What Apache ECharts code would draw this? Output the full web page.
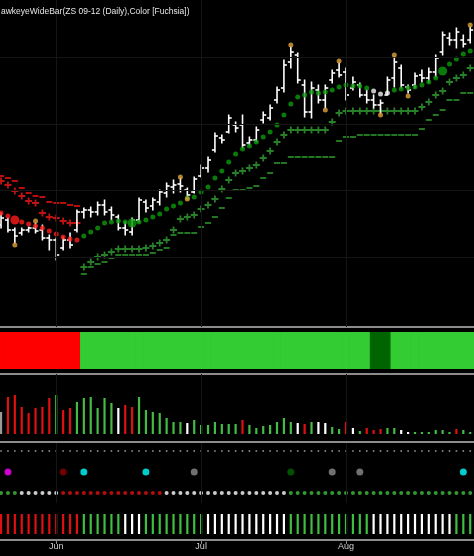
<!DOCTYPE html>
<html><head><meta charset="utf-8">
<script src="https://cdn.jsdelivr.net/npm/echarts@6/dist/echarts.min.js"></script>
<style>html,body{margin:0;padding:0;background:#000}#c{width:474px;height:556px}</style>
</head><body><div id="c"></div>
<script>
// ---------- DATA ----------
const dates = ['2012-05-21','2012-05-22','2012-05-23','2012-05-24','2012-05-25','2012-05-29','2012-05-30','2012-05-31',
 '2012-06-01','2012-06-04','2012-06-05','2012-06-06','2012-06-07','2012-06-08','2012-06-11','2012-06-12','2012-06-13','2012-06-14','2012-06-15',
 '2012-06-18','2012-06-19','2012-06-20','2012-06-21','2012-06-22','2012-06-25','2012-06-26','2012-06-27','2012-06-28','2012-06-29',
 '2012-07-02','2012-07-03','2012-07-05','2012-07-06','2012-07-09','2012-07-10','2012-07-11','2012-07-12','2012-07-13',
 '2012-07-16','2012-07-17','2012-07-18','2012-07-19','2012-07-20','2012-07-23','2012-07-24','2012-07-25','2012-07-26','2012-07-27',
 '2012-07-30','2012-07-31','2012-08-01','2012-08-02','2012-08-03','2012-08-06','2012-08-07','2012-08-08','2012-08-09','2012-08-10',
 '2012-08-13','2012-08-14','2012-08-15','2012-08-16','2012-08-17','2012-08-20','2012-08-21','2012-08-22','2012-08-23','2012-08-24','2012-08-27'];
const monthLabels = ['Jun','Jul','Aug'];
const titleText = 'awkeyeWideBar(ZS 09-12 (Daily),Color [Fuchsia])';

const high = [1587,1582,1572,1572,1573,1577,1575,1565,1562,1563,
 1567,1590,1592,1593,1598,1600,1593,1585,1578,1582,
 1602,1600,1602,1610,1617,1620,1622,1612,1623,1635,
 1643,1667,1665,1685,1678,1685,1663,1673,1688,1695,
 1713,1740,1753,1747,1720,1718,1715,1715,1730,1737,
 1732,1723,1717,1710,1705,1700,1723,1743,1735,1715,
 1727,1730,1732,1745,1768,1767,1772,1765,1773];
const low = [1572,1568,1557,1565,1568,1567,1560,1550,1540,1550,
 1552,1568,1582,1583,1585,1585,1580,1570,1565,1565,
 1578,1588,1590,1595,1603,1607,1608,1603,1607,1623,
 1628,1648,1657,1667,1668,1652,1655,1658,1677,1680,
 1697,1708,1732,1717,1683,1682,1697,1692,1717,1723,
 1700,1710,1703,1697,1692,1687,1705,1713,1712,1707,
 1712,1718,1718,1723,1745,1755,1752,1753,1757];
const open = [1575,1580,1570,1567,1570,1572,1570,1562,1560,1552,
 1560,1570,1588,1590,1588,1595,1590,1583,1572,1568,
 1580,1598,1594,1598,1607,1613,1616,1610,1608,1624,
 1632,1650,1662,1668,1675,1675,1657,1660,1680,1682,
 1700,1712,1738,1745,1715,1688,1710,1700,1720,1730,
 1728,1712,1715,1705,1700,1695,1705,1722,1732,1713,
 1715,1725,1722,1728,1748,1762,1760,1760,1760];
const close = [1582,1570,1564,1570,1572,1569,1562,1560,1545,1560,
 1555,1588,1590,1588,1595,1588,1585,1572,1570,1580,
 1600,1592,1600,1608,1614,1615,1614,1605,1621,1632,
 1640,1664,1660,1682,1672,1655,1660,1670,1685,1692,
 1710,1735,1748,1720,1688,1712,1700,1712,1727,1725,
 1705,1718,1705,1700,1695,1697,1720,1738,1715,1710,
 1724,1722,1728,1742,1765,1760,1768,1756,1770];

// trailing stop dots (one per bar) and their colour codes
const stopDots = [1587,1584,1580,1578,1576,1574,1572,1569,1566,1563,
 1561,1560,1564,1568,1572,1577,1578,1579,1578,1577,
 1578,1580,1583,1586,1591,1594,1597,1602,1603,1608,
 1613,1622,1629,1638,1646,1651,1654,1658,1663,1668,
 1675,1685,1696,1703,1705,1708,1707,1708,1710,1713,
 1715,1714,1714,1712,1709,1706,1707,1710,1711,1712,
 1713,1715,1718,1722,1729,1736,1741,1746,1749];
const stopCodes = 'RRRRRRRRRRRR GGGGGGGGGG GGGGGGGGGG GGGGGGGGGG GGGGGGGGGG GG WWW GGGGGGGGGGGG';
const bigDotIdx = [2, 19, 64];

// red levels (bars 0..11)
const redStart = 0;
const redPlus = [1619,1615,1609,1604,1599,1597,1587,1583,1582,1579,1577,1577];
const redDash = [1624,1622,1619,1612,1607,1604,1603,1598,1597,1597,1595,1594];
// green levels (bars 12..68)
const greenStart = 12;
const greenPlus = [1533,1538,1543,1545,1548,1551,1551,1551,1551,1552,1554,1557,1560,1570,1581,1583,1585,1591,1595,1601,
 1611,1620,1627,1629,1632,1635,1642,1649,1658,1665,1670,1670,1670,1670,1670,1670,1678,1687,1689,1689,
 1689,1689,1689,1689,1689,1689,1689,1689,1689,1693,1698,1705,1709,1718,1722,1725,1732];
const greenDash = [1526,1533,1536,1538,1542,1545,1545,1545,1545,1545,1547,1550,1552,1565,1567,1567,1567,1573,1577,1583,
 1592,1602,1610,1610,1612,1614,1622,1627,1637,1637,1643,1643,1643,1643,1643,1643,1643,1659,1663,1663,
 1665,1665,1665,1665,1665,1665,1665,1665,1665,1671,1680,1685,1690,1700,1700,1707,1707];

// swing markers (orange)
const swingIdx = [2,5,26,27,42,47,49,55,57,59,68];
const swingVal = [1555,1579,1623,1601,1755,1690,1739,1685,1745,1704,1775];

// status band codes
const statusCodes = 'RRRRRRRRRRRR GGGGGGGGGG GGGGGGGGGG GGGGGGGGGG GGGGGGGGGG GG DDD GGGGGGGGGGGG';

// histogram
const histVals = [22,37,39,27,21,26,27,36,39,24,
 26,32,36,37,26,36,31,26,29,27,
 37,24,22,21,16,12,12,11,14,9,
 9,12,10,10,10,14,9,6,8,9,
 12,16,12,11,10,12,12,11,7,5,
 12,6,3,6,4,5,6,6,4,2,
 2,2,2,4,4,2,5,4,2];
const histCodes = 'Y RRRRRRR G RR GGGGGG W RR GGGGGGG W GGGGGGG R GGGGGGG W R G WW GG R W G RRR GG WW GGGGGG R GG';

// signal dots
const sigIdx = [1, 9, 12, 21, 28, 42, 48, 52, 67];
const sigCodes = ['M','K','C','C','S','D','S','S','C'];

// small dots row and bars row
const dotRowCodes = 'GGG WWWWWW RRRRRRRRRRRRRRR WWWWWWWWWWWWWWWWWW GGGGGGGGGGGGGGGGGGGGGGGGGGG';
const barRowCodes = 'RRRRRRRRRRRR GGGGGG WWW GGGGGGGGG WWWWWWWWWWWW GGGGGGGGGGGG WWWWWWWWWWWW GGG';

// ---------- STYLE ----------
const codes = s => s.replace(/ /g,'').split('');
const COL = {R:'#ff1a1a', G:'#0b9a0b', W:'#f2f2f2', D:'#006400', Y:'#9a9a9a', M:'#ff00ff', K:'#8b0000', C:'#00ffff', S:'#8c8c8c'};
const STATUS_COL = {R:'#ff0000', G:'#33cc33', D:'#006400'};
const HIST_COL = {R:'#e01010', G:'#44bb44', W:'#ffffff', Y:'#9a9a9a'};
const ROW_COL = {R:'#e01010', G:'#3fbf3f', W:'#ffffff'};
const PLUS = 'path://M0,2.6H7V4.4H0ZM2.6,0H4.4V7H2.6Z';

const N = dates.length;
const monthIdx = [];
dates.forEach((d,i)=>{ if(i>0 && d.slice(5,7)!==dates[i-1].slice(5,7)) monthIdx.push(i); });
const XMIN = -0.15, XMAX = 68.55;
const AXCOL = '#8c8c8c', GRIDCOL = '#151515';

function xAx(g, extra){
  return Object.assign({type:'value', gridIndex:g, min:XMIN, max:XMAX,
    axisLine:{show:false}, axisTick:{show:false}, axisLabel:{show:false}, splitLine:{show:false}}, extra||{});
}
function yAx(g, min, max){
  return {type:'value', gridIndex:g, min:min, max:max, show:false, splitLine:{show:false}};
}
const baseLine = {show:true, onZero:false, lineStyle:{color:AXCOL, width:2}};
function vGrid(g){
  return {type:'scatter', xAxisIndex:g, yAxisIndex:g, data:[], silent:true, z:0,
    markLine:{silent:true, symbol:['none','none'], label:{show:false}, animation:false,
      lineStyle:{color:GRIDCOL, width:1, type:'solid'},
      data: monthIdx.map(i=>({xAxis:i}))}};
}

const sCodes = codes(stopCodes), stCodes = codes(statusCodes), hCodes = codes(histCodes),
      dCodes = codes(dotRowCodes), bCodes = codes(barRowCodes);

const series = [];
// price panel gridlines
const g0 = vGrid(0);
g0.markLine.data = g0.markLine.data.concat([1543,1610,1676,1743].map(v=>({yAxis:v})));
series.push(g0);
// red levels
series.push({type:'scatter', xAxisIndex:0, yAxisIndex:0, symbol:'rect', symbolSize:[6,2], itemStyle:{color:'#e61212'},
  data: redDash.map((v,k)=>[redStart+k, v]), z:2});
series.push({type:'scatter', xAxisIndex:0, yAxisIndex:0, symbol:PLUS, symbolSize:7, itemStyle:{color:'#f01818'},
  data: redPlus.map((v,k)=>[redStart+k, v]), z:2});
// green levels
series.push({type:'scatter', xAxisIndex:0, yAxisIndex:0, symbol:'rect', symbolSize:[6,2], itemStyle:{color:'#2c952c'},
  data: greenDash.map((v,k)=>[greenStart+k, v]), z:2});
series.push({type:'scatter', xAxisIndex:0, yAxisIndex:0, symbol:PLUS, symbolSize:7, itemStyle:{color:'#32a032'},
  data: greenPlus.map((v,k)=>[greenStart+k, v]), z:2});
// price bars
series.push({type:'custom', xAxisIndex:0, yAxisIndex:0, z:3,
  data: dates.map((d,i)=>[i, open[i], high[i], low[i], close[i]]),
  encode:{x:0, y:[1,2,3,4]},
  renderItem: function(params, api){
    const x = api.coord([api.value(0), api.value(2)])[0];
    const yo = api.coord([api.value(0), api.value(1)])[1];
    const yh = api.coord([api.value(0), api.value(2)])[1];
    const yl = api.coord([api.value(0), api.value(3)])[1];
    const yc = api.coord([api.value(0), api.value(4)])[1];
    const st = {stroke:'#ffffff', lineWidth:1.6};
    return {type:'group', children:[
      {type:'line', shape:{x1:x, y1:yh-0.5, x2:x, y2:yl+0.5}, style:st},
      {type:'line', shape:{x1:x-3, y1:yo, x2:x, y2:yo}, style:st},
      {type:'line', shape:{x1:x, y1:yc, x2:x+3, y2:yc}, style:st}
    ]};
  }});
// stop dots
series.push({type:'scatter', xAxisIndex:0, yAxisIndex:0, z:4,
  data: stopDots.map((v,i)=>({value:[i,v], symbolSize: bigDotIdx.includes(i)?9:5, itemStyle:{color:COL[sCodes[i]]}}))});
// swing markers
series.push({type:'scatter', xAxisIndex:0, yAxisIndex:0, z:5, symbolSize:5, itemStyle:{color:'#e0a23a'},
  data: swingIdx.map((i,k)=>[i, swingVal[k]])});

// status band
series.push({type:'bar', xAxisIndex:1, yAxisIndex:1, barWidth:7.6, barGap:'-100%',
  data: dates.map((d,i)=>({value:[i,1], itemStyle:{color:STATUS_COL[stCodes[i]]}}))});

// histogram
series.push(vGrid(2));
series.push({type:'bar', xAxisIndex:2, yAxisIndex:2, barWidth:2.2,
  data: histVals.map((v,i)=>({value:[i,v], itemStyle:{color:HIST_COL[hCodes[i]]}}))});

// dots panel
series.push(vGrid(3));
series.push({type:'scatter', xAxisIndex:3, yAxisIndex:3, symbol:'rect', symbolSize:1.6, itemStyle:{color:'#bdbdbd'},
  data: dates.map((d,i)=>[i, 52])});
series.push({type:'scatter', xAxisIndex:3, yAxisIndex:3, symbolSize:7,
  data: sigIdx.map((i,k)=>({value:[i,31], itemStyle:{color:COL[sigCodes[k]]}}))});
series.push({type:'scatter', xAxisIndex:3, yAxisIndex:3, symbolSize:4,
  data: dates.map((d,i)=>({value:[i,10], itemStyle:{color:ROW_COL[dCodes[i]]}}))});

// bars row
series.push(vGrid(4));
series.push({type:'bar', xAxisIndex:4, yAxisIndex:4, barWidth:2.2,
  data: dates.map((d,i)=>({value:[i,1], itemStyle:{color:ROW_COL[bCodes[i]]}}))});

const option = {
  backgroundColor:'#000000',
  animation:false,
  title:{text:titleText, left:1, top:7, padding:0,
    textStyle:{color:'#e6e6e6', fontSize:8.5, fontWeight:'normal', fontFamily:'"Liberation Sans Narrow", "Liberation Sans", Arial, sans-serif'}},
  grid:[
    {left:0, right:0, top:0, height:327},
    {left:0, right:0, top:332, height:37},
    {left:0, right:0, top:374, height:60},
    {left:0, right:0, top:443, height:60},
    {left:0, right:0, top:514, height:20}
  ],
  xAxis:[
    xAx(0, {axisLine:baseLine}),
    xAx(1, {axisLine:baseLine, offset:5}),
    xAx(2, {axisLine:baseLine, offset:8}),
    xAx(3),
    xAx(4, {axisLine:baseLine, offset:6,
      axisTick:{show:true, customValues:monthIdx, length:4, lineStyle:{color:AXCOL, width:1}},
      axisLabel:{show:true, customValues:monthIdx, margin:2, color:'#d0d0d0', fontSize:9,
        fontFamily:'"Liberation Sans", Arial, sans-serif',
        formatter: v => monthLabels[monthIdx.indexOf(Math.round(v))] || ''}})
  ],
  yAxis:[ yAx(0,1473,1800), yAx(1,0,1), yAx(2,0,60), yAx(3,0,60), yAx(4,0,1) ],
  series: series
};
const chart = echarts.init(document.getElementById('c'));
chart.setOption(option);
</script></body></html>
